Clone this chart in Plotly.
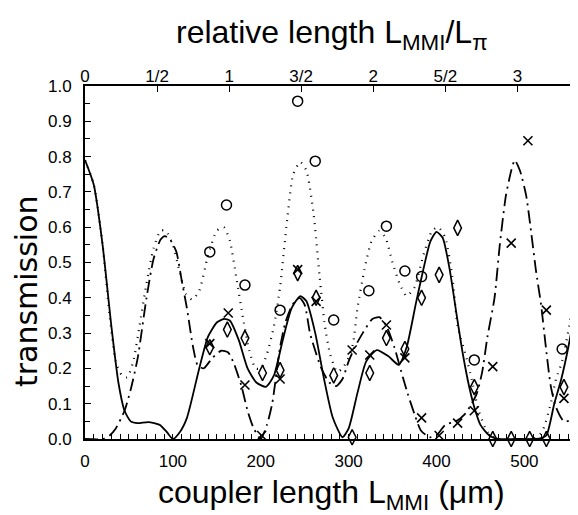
import plotly.graph_objects as go

# coupler length (um) and transmission
solid_len = [0, 10, 20, 30, 38, 45, 52, 60, 72, 85, 93, 100, 108, 116, 130, 140, 150, 158, 165,
             175, 185, 195, 206, 215, 225, 235, 245, 252, 262, 272, 282, 293, 300, 310, 320, 332,
             345, 357, 366, 377, 385, 393, 400, 407, 415, 423, 430, 437, 443, 450, 460, 470, 490,
             510, 518, 525, 534, 542, 550, 561]
solid_val = [0.79, 0.72, 0.55, 0.32, 0.16, 0.08, 0.05, 0.045, 0.048, 0.04, 0.02, 0.0, 0.02, 0.06,
             0.2, 0.29, 0.33, 0.34, 0.335, 0.28, 0.2, 0.16, 0.148, 0.18, 0.28, 0.37, 0.405, 0.39,
             0.3, 0.17, 0.06, 0.005, 0.03, 0.13, 0.22, 0.252, 0.235, 0.21, 0.26, 0.39, 0.48, 0.56,
             0.587, 0.57, 0.48, 0.35, 0.24, 0.15, 0.09, 0.04, 0.01, 0.0, 0.0, 0.0, 0.002, 0.01, 0.1,
             0.17, 0.26, 0.41]

dot_len = [0, 10, 20, 28, 35, 42, 48, 55, 62, 70, 78, 86, 92, 100, 108, 115, 122, 130, 140, 150,
           158, 165, 172, 180, 187, 194, 200, 207, 215, 222, 230, 237, 245, 252, 260, 267, 273,
           279, 287, 293, 300, 305, 310, 318, 326, 335, 342, 350, 358, 366, 375, 385, 395, 402,
           410, 418, 424, 434, 440, 448, 458, 470, 490, 510, 520, 530, 536, 543, 551, 556, 561]
dot_val = [0.79, 0.72, 0.55, 0.35, 0.22, 0.18, 0.175, 0.22, 0.32, 0.44, 0.54, 0.59, 0.59, 0.55,
           0.47, 0.41, 0.395, 0.42, 0.52, 0.59, 0.6, 0.56, 0.46, 0.34, 0.25, 0.2, 0.2, 0.24, 0.32,
           0.43, 0.62, 0.75, 0.785, 0.76, 0.64, 0.46, 0.32, 0.24, 0.19, 0.2, 0.23, 0.27, 0.37,
           0.48, 0.56, 0.59, 0.57, 0.5, 0.44, 0.405, 0.43, 0.52, 0.59, 0.6, 0.57, 0.46, 0.32, 0.23,
           0.17, 0.08, 0.02, 0.0, 0.0, 0.0, 0.02, 0.1, 0.17, 0.22, 0.32, 0.4, 0.47]

dash_len = [0, 20, 28, 35, 45, 52, 60, 70, 78, 86, 91, 98, 104, 110, 116, 123, 128, 135, 145, 155,
            163, 170, 178, 185, 192, 200, 207, 213, 222, 228, 236, 244, 250, 256, 262, 269, 278,
            286, 293, 300, 307, 316, 327, 335, 343, 352, 360, 367, 375, 382, 392, 400, 410, 422,
            432, 440, 446, 452, 458, 466, 472, 479, 485, 489, 495, 502, 508, 513, 519, 524, 530,
            536, 545, 555, 561]
dash_val = [0.0, 0.0, 0.01, 0.03, 0.08, 0.14, 0.23, 0.4, 0.51, 0.565, 0.575, 0.56, 0.53, 0.45,
            0.37, 0.26, 0.21, 0.2, 0.23, 0.25, 0.245, 0.21, 0.15, 0.08, 0.03, 0.0, 0.04, 0.1, 0.26,
            0.33, 0.38, 0.4, 0.38, 0.3, 0.25, 0.2, 0.16, 0.15, 0.17, 0.22, 0.26, 0.3, 0.34, 0.345,
            0.32, 0.26, 0.19, 0.13, 0.07, 0.025, 0.005, 0.01, 0.04, 0.05, 0.07, 0.1, 0.13, 0.19,
            0.29, 0.4, 0.55, 0.69, 0.76, 0.79, 0.76, 0.69, 0.58, 0.48, 0.38, 0.27, 0.15, 0.09, 0.05,
            0.055, 0.06]

# measured points
circle_len = [142, 161, 182, 222, 242, 262, 283, 323, 343, 364, 383, 443, 543]
circle_val = [0.53, 0.663, 0.436, 0.365, 0.957, 0.787, 0.337, 0.42, 0.603, 0.476, 0.46, 0.224, 0.255]

diamond_len = [142, 162, 182, 202, 222, 242, 263, 283, 304, 324, 343, 364, 383, 403, 424, 443,
               464, 485, 506, 525, 545]
diamond_val = [0.26, 0.31, 0.286, 0.187, 0.195, 0.47, 0.40, 0.18, 0.005, 0.187, 0.286, 0.255,
               0.40, 0.465, 0.598, 0.147, 0.0, 0.0, 0.0, 0.0, 0.147]

cross_len = [142, 163, 182, 201, 222, 242, 263, 304, 324, 343, 364, 383, 403, 424, 443, 464, 485,
             504, 525, 545]
cross_val = [0.27, 0.357, 0.153, 0.01, 0.17, 0.48, 0.39, 0.252, 0.238, 0.323, 0.23, 0.06, 0.01,
             0.045, 0.08, 0.205, 0.555, 0.845, 0.365, 0.115]

# top axis: relative length L_MMI / L_pi
L_PI = 164
rel_ticks = [0, 0.5, 1, 1.5, 2, 2.5, 3]
rel_labels = ["0", "1/2", "1", "3/2", "2", "5/2", "3"]

X_MAX = 561
TICKFONT = dict(family="Liberation Sans, Arial", size=17, color="black")
TITLEFONT = dict(family="Liberation Sans, Arial", size=32, color="black")
YTITLEFONT = dict(family="DejaVu Sans, Liberation Sans", size=30, color="black")

fig = go.Figure()
fig.add_trace(go.Scatter(x=solid_len, y=solid_val, mode="lines",
                         line=dict(color="black", width=1.8, shape="spline", smoothing=0.6)))
fig.add_trace(go.Scatter(x=dot_len, y=dot_val, mode="lines",
                         line=dict(color="black", width=2.2, dash="1px,6px", shape="spline", smoothing=0.6)))
fig.add_trace(go.Scatter(x=dash_len, y=dash_val, mode="lines",
                         line=dict(color="black", width=1.8, dash="13px,5px,2px,5px", shape="spline", smoothing=0.6)))
fig.add_trace(go.Scatter(x=circle_len, y=circle_val, mode="markers", cliponaxis=False,
                         marker=dict(symbol="circle-open", size=10, color="black", line=dict(width=1.5))))
fig.add_trace(go.Scatter(x=diamond_len, y=diamond_val, mode="markers", cliponaxis=False,
                         marker=dict(symbol="diamond-tall-open", size=11, color="black", line=dict(width=1.5))))
fig.add_trace(go.Scatter(x=cross_len, y=cross_val, mode="markers", cliponaxis=False,
                         marker=dict(symbol="x-thin-open", size=9, color="black", line=dict(width=1.6))))
# empty trace so that the top / right axes get drawn
fig.add_trace(go.Scatter(x=[], y=[], xaxis="x2", yaxis="y2"))

# the page body adds an 8px offset, so the figure is 8px smaller than the window
fig.update_layout(
    width=570, height=507,
    margin=dict(l=77, r=0, t=78, b=76),
    paper_bgcolor="white", plot_bgcolor="white",
    showlegend=False,
    xaxis=dict(range=[0, X_MAX], tick0=0, dtick=100, ticks="inside", ticklen=5, tickwidth=1.2,
               tickcolor="black", showline=True, linecolor="black", linewidth=2,
               showgrid=False, zeroline=False, tickfont=TICKFONT, ticklabelstandoff=6,
               minor=dict(dtick=10, ticks="inside", ticklen=5, tickwidth=1.2, tickcolor="black",
                          showgrid=False)),
    xaxis2=dict(overlaying="x", side="top", range=[0, X_MAX / L_PI], tickvals=rel_ticks,
                ticktext=rel_labels, ticks="inside", ticklen=6, tickwidth=1.2, tickcolor="black",
                showline=True, linecolor="black", linewidth=2, showgrid=False, zeroline=False,
                tickfont=TICKFONT, ticklabelstandoff=-5),
    yaxis=dict(range=[0, 1], tick0=0, dtick=0.1, tickformat=".1f", ticks="inside", ticklen=6,
               tickwidth=1.2, tickcolor="black", showline=True, linecolor="black", linewidth=2,
               showgrid=False, zeroline=False, tickfont=TICKFONT, ticklabelstandoff=8,
               minor=dict(dtick=0.05, ticks="inside", ticklen=5, tickwidth=1.2, tickcolor="black",
                          showgrid=False)),
    yaxis2=dict(overlaying="y", side="right", range=[0, 1], dtick=0.1, ticks="inside", ticklen=5,
                tickcolor="black", showticklabels=False, showline=False, showgrid=False,
                zeroline=False),
    annotations=[
        dict(text="relative length L<sub>MMI</sub>/L<sub>π</sub>", xref="paper", yref="paper",
             x=0.5, y=1.145, xanchor="center", yanchor="middle", showarrow=False, font=TITLEFONT),
        dict(text="coupler length L<sub>MMI</sub> (μm)", xref="paper", yref="paper",
             x=0.5, y=-0.158, xanchor="center", yanchor="middle", showarrow=False, font=TITLEFONT),
        dict(text="transmission", xref="paper", yref="paper", textangle=-90,
             x=-0.119, y=0.42, xanchor="center", yanchor="middle", showarrow=False, font=YTITLEFONT),
    ],
)

fig.write_html("out.html")
